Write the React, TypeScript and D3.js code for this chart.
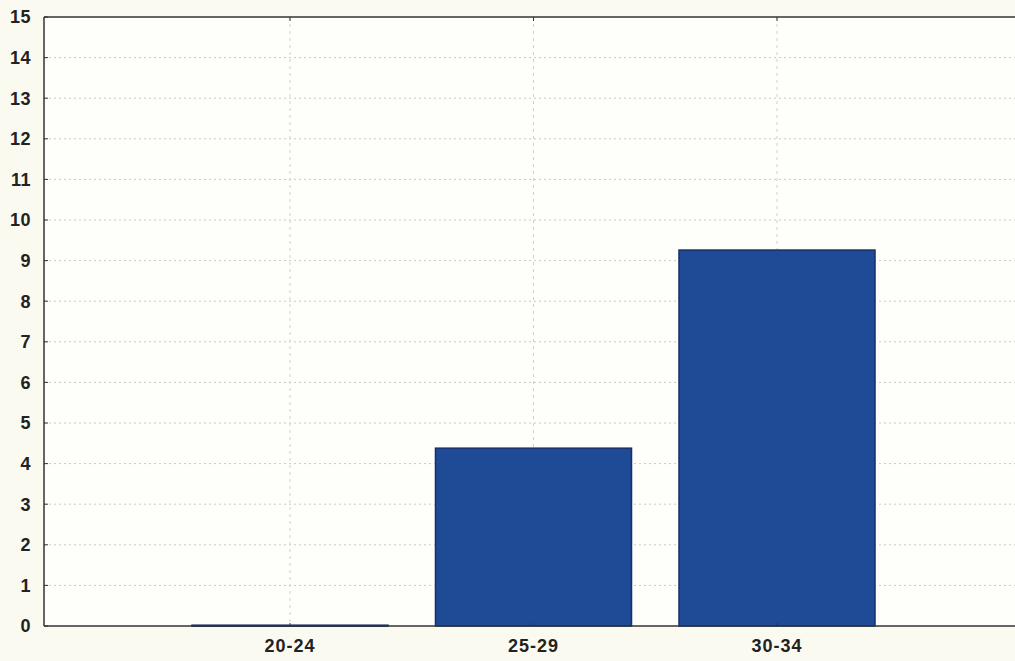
import React from "react";
import * as d3 from "d3";

const categories = ["20-24", "25-29", "30-34"];
const values = [0.02, 4.38, 9.26];
const yTicks = d3.range(0, 16);

const W = 1015, H = 661;
const left = 44, right = 1016, top = 17, bottom = 626;

export default function App() {
  const x = d3.scaleLinear().domain([1, 3]).range([290, 777]);
  const y = d3.scaleLinear().domain([0, 15]).range([bottom, top]);
  const barW = (x(2) - x(1)) * 0.805;
  return (
    <svg width={W} height={H} style={{ position: "absolute", left: 0, top: 0, background: "#fbfaf1" }}
      fontFamily="Liberation Sans, Arial, sans-serif">
      <rect x={left} y={top} width={right - left} height={bottom - top} fill="#fefefb" />
      {yTicks.slice(1, -1).map(t => (
        <line key={"g" + t} x1={left} x2={right} y1={y(t)} y2={y(t)} stroke="#c8c8c8" strokeWidth={1} strokeDasharray="2,3" />
      ))}
      {categories.map((c, i) => (
        <line key={"v" + c} x1={x(i + 1)} x2={x(i + 1)} y1={top} y2={bottom} stroke="#d0d0d0" strokeWidth={1} strokeDasharray="3,4" />
      ))}
      {categories.map((c, i) => {
        const h = bottom - y(values[i]);
        return (
          <rect key={c} x={x(i + 1) - barW / 2} y={y(values[i])} width={barW} height={Math.max(h, 1)}
            fill="#1e4a96" stroke="#182f6a" strokeWidth={1.5} />
        );
      })}
      <line x1={left} x2={right} y1={top} y2={top} stroke="#333" strokeWidth={1.5} />
      <line x1={left} x2={right} y1={bottom} y2={bottom} stroke="#333" strokeWidth={1.5} />
      <line x1={left} x2={left} y1={top} y2={bottom} stroke="#333" strokeWidth={1.5} />
      {yTicks.map(t => (
        <g key={"t" + t}>
          <line x1={left} x2={left + 4} y1={y(t)} y2={y(t)} stroke="#333" />
          <text x={31} y={y(t)} dy="0.36em" textAnchor="end" fontSize={18} fontWeight="bold" letterSpacing={0.5} fill="#222">{t}</text>
        </g>
      ))}
      {categories.map((c, i) => (
        <g key={"l" + c}>
          <line x1={x(i + 1)} x2={x(i + 1)} y1={top} y2={top + 4} stroke="#333" />
          <line x1={x(i + 1)} x2={x(i + 1)} y1={bottom} y2={bottom - 3} stroke="#333" />
          <text x={x(i + 1)} y={652} textAnchor="middle" fontSize={18} fontWeight="bold" letterSpacing={1} fill="#222">{c}</text>
        </g>
      ))}
    </svg>
  );
}
